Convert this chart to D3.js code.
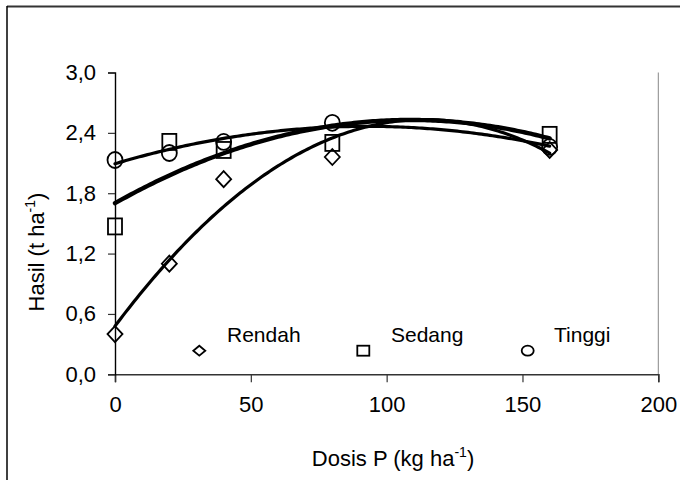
<!DOCTYPE html>
<html>
<head>
<meta charset="UTF-8">
<title>Hasil vs Dosis P</title>
<script src="https://cdn.jsdelivr.net/npm/d3@7"></script>
<style>
    body { margin: 0; background: #fff; }
    text { font-family: "Liberation Sans", Arial, sans-serif; fill: #000; }
</style>
</head>
<body>
<svg id="chart"></svg>
<script>
    // data
    var dosis = [0, 20, 40, 80, 160];
    var rendah = [0.40, 1.10, 1.94, 2.16, 2.23];
    var sedang = [1.47, 2.31, 2.23, 2.30, 2.38];
    var tinggi = [2.13, 2.20, 2.31, 2.50, 2.26];
    var seriesNames = ["Rendah", "Sedang", "Tinggi"];
    var xTicks = [0, 50, 100, 150, 200];
    var yTicks = [0, 0.6, 1.2, 1.8, 2.4, 3.0];

    var W = 680, H = 480;
    var svg = d3.select("#chart").attr("width", W).attr("height", H);

    var x = d3.scaleLinear().domain([0, 200]).range([115, 658.3]);
    var y = d3.scaleLinear().domain([0, 3]).range([374.3, 72.5]);

    // chart area border (runs off the picture on right/bottom)
    svg.append("line").attr("x1", 7).attr("x2", W).attr("y1", 6.5).attr("y2", 6.5)
        .attr("stroke", "#333").attr("stroke-width", 2);
    svg.append("line").attr("x1", 7).attr("x2", 7).attr("y1", 6).attr("y2", H)
        .attr("stroke", "#000").attr("stroke-width", 1.5);

    // plot area right edge
    svg.append("line").attr("x1", x(200)).attr("x2", x(200)).attr("y1", y(3)).attr("y2", y(0))
        .attr("stroke", "#888").attr("stroke-width", 1);

    // axes
    var xAxis = svg.append("g").attr("transform", "translate(0," + y(0) + ")")
        .call(d3.axisBottom(x).tickValues(xTicks).tickSize(8).tickPadding(14)
            .tickFormat(d3.format("d")));
    var yAxis = svg.append("g").attr("transform", "translate(" + x(0) + ",0)")
        .call(d3.axisLeft(y).tickValues(yTicks).tickSize(7).tickPadding(12)
            .tickFormat(function (d) { return d3.format(".1f")(d).replace(".", ","); }));
    xAxis.select(".domain").attr("stroke", "#333").attr("stroke-width", 1.6);
    yAxis.select(".domain").attr("stroke", "#000").attr("stroke-width", 1.4);
    xAxis.selectAll(".tick line").attr("stroke", "#333").attr("stroke-width", 1.2);
    yAxis.selectAll(".tick line").attr("stroke", "#333").attr("stroke-width", 1.2);
    svg.selectAll(".tick text").style("font-family", "Liberation Sans, Arial, sans-serif")
        .style("font-size", "22px").attr("fill", "#000");

    // axis titles
    var xt = svg.append("text").attr("x", 393).attr("y", 466).attr("text-anchor", "middle")
        .style("font-size", "22px");
    xt.append("tspan").text("Dosis P (kg ha");
    xt.append("tspan").attr("dy", -9).style("font-size", "14px").text("-1");
    xt.append("tspan").attr("dy", 9).text(")");

    var yt = svg.append("text").attr("transform", "translate(44,252) rotate(-90)")
        .attr("text-anchor", "middle").style("font-size", "22px");
    yt.append("tspan").text("Hasil (t ha");
    yt.append("tspan").attr("dy", -9).style("font-size", "14px").text("-1");
    yt.append("tspan").attr("dy", 9).text(")");

    // quadratic least squares trendline
    function quadFit(xs, ys) {
        var n = xs.length, s = [0, 0, 0, 0, 0], t = [0, 0, 0];
        for (var i = 0; i < n; i++) {
            for (var k = 0; k < 5; k++) s[k] += Math.pow(xs[i], k);
            for (var k2 = 0; k2 < 3; k2++) t[k2] += ys[i] * Math.pow(xs[i], k2);
        }
        var m = [[s[0], s[1], s[2], t[0]], [s[1], s[2], s[3], t[1]], [s[2], s[3], s[4], t[2]]];
        for (var c = 0; c < 3; c++) {
            for (var r = c + 1; r < 3; r++) {
                var f = m[r][c] / m[c][c];
                for (var j = c; j < 4; j++) m[r][j] -= f * m[c][j];
            }
        }
        var b = [0, 0, 0];
        for (var r2 = 2; r2 >= 0; r2--) {
            var v = m[r2][3];
            for (var j2 = r2 + 1; j2 < 3; j2++) v -= m[r2][j2] * b[j2];
            b[r2] = v / m[r2][r2];
        }
        return function (xx) { return b[0] + b[1] * xx + b[2] * xx * xx; };
    }

    var allSeries = [rendah, sedang, tinggi];
    var widths = [3.2, 4.4, 3.2];
    var line = d3.line().x(function (d) { return x(d[0]); }).y(function (d) { return y(d[1]); })
        .curve(d3.curveLinear);

    allSeries.forEach(function (ys, si) {
        var f = quadFit(dosis, ys);
        var pts = d3.range(0, 160.5, 1).map(function (xx) { return [xx, f(xx)]; });
        svg.append("path").datum(pts).attr("d", line).attr("fill", "none")
            .attr("stroke", "#000").attr("stroke-width", widths[si]).attr("stroke-linecap", "round");
    });

    function marker(g, kind, cx, cy, w, h) {
        if (kind === 0) {
            g.append("path").attr("d", "M" + cx + "," + (cy - h / 2) + "L" + (cx + w / 2) + "," + cy +
                "L" + cx + "," + (cy + h / 2) + "L" + (cx - w / 2) + "," + cy + "Z");
        } else if (kind === 1) {
            g.append("rect").attr("x", cx - w / 2).attr("y", cy - h / 2).attr("width", w).attr("height", h);
        } else {
            g.append("ellipse").attr("cx", cx).attr("cy", cy).attr("rx", w / 2).attr("ry", h / 2);
        }
    }

    var mk = svg.append("g").attr("fill", "none").attr("stroke", "#000").attr("stroke-width", 1.8);
    allSeries.forEach(function (ys, si) {
        ys.forEach(function (v, i) {
            marker(mk, si, x(dosis[i]), y(v), si === 1 ? 14 : 15, 16);
        });
    });

    // legend
    var legX = [199.3, 363.3, 527.7];
    var legTextX = [227, 391, 554];
    seriesNames.forEach(function (name, si) {
        marker(mk, si, legX[si], 350.7, 12, 10);
        svg.append("text").attr("x", legTextX[si]).attr("y", 341.7)
            .style("font-size", "21px").text(name);
    });
</script>
</body>
</html>
